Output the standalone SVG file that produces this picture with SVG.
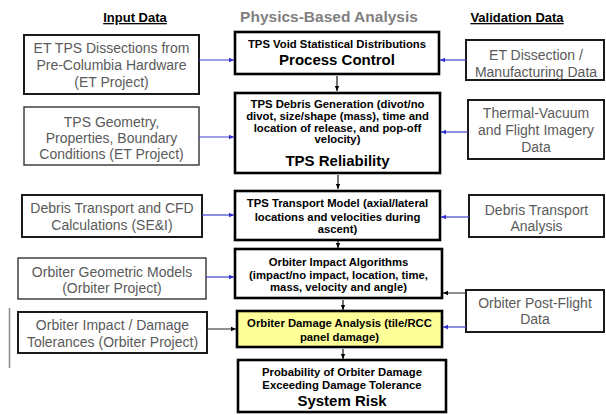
<svg xmlns="http://www.w3.org/2000/svg" width="606" height="415" viewBox="0 0 606 415">
  <style>
    text { font-family: "Liberation Sans", Arial, sans-serif; text-anchor: middle; }
    .hdr { font-size: 13px; font-weight: bold; fill: #000; text-decoration: underline; }
    .title { font-size: 15.5px; font-weight: bold; fill: #808080; }
    .side rect { fill: #fff; stroke: #1a1a1a; stroke-width: 2; }
    .side rect.thin { stroke-width: 1.4; stroke: #333; }
    .side text { font-size: 14px; fill: #5a5a5a; }
    .core rect { fill: #fff; stroke: #000; stroke-width: 2.6; }
    .core rect.hl { fill: #ffff99; }
    .core text { font-size: 11.3px; font-weight: bold; fill: #000; }
    .core text.big { font-size: 15px; }
    .blue { stroke: #4040d0; stroke-width: 1.2; fill: none; marker-end: url(#ahBlue); }
    .dark { stroke: #333; stroke-width: 1.1; fill: none; marker-end: url(#ahDark); }
    .down { stroke: #000; stroke-width: 1.1; fill: none; marker-end: url(#ahDark); }
  </style>
  <defs>
    <marker id="ahBlue" markerUnits="userSpaceOnUse" markerWidth="6" markerHeight="6" refX="5" refY="3" orient="auto">
      <path d="M0,0.8 L5,3 L0,5.2 Z" fill="#3030d0"/>
    </marker>
    <marker id="ahDark" markerUnits="userSpaceOnUse" markerWidth="6" markerHeight="6" refX="5" refY="3" orient="auto">
      <path d="M0,0.8 L5,3 L0,5.2 Z" fill="#000"/>
    </marker>
  </defs>

  <rect width="606" height="415" fill="#fff"/>

  <!-- column headings -->
  <text class="hdr" x="135" y="22">Input Data</text>
  <text class="title" x="329" y="22">Physics-Based Analysis</text>
  <text class="hdr" x="517" y="22">Validation Data</text>

  <!-- input data column -->
  <g id="in-et-dissections" class="side">
    <rect x="24" y="35" width="175" height="59"/>
    <text x="111.5" y="53">ET TPS Dissections from</text>
    <text x="111.5" y="70">Pre-Columbia Hardware</text>
    <text x="111.5" y="87">(ET Project)</text>
  </g>
  <g id="in-tps-geometry" class="side">
    <rect class="thin" x="24" y="107" width="175" height="58"/>
    <text x="111.5" y="127">TPS Geometry,</text>
    <text x="111.5" y="143">Properties, Boundary</text>
    <text x="111.5" y="159">Conditions (ET Project)</text>
  </g>
  <g id="in-debris-cfd" class="side">
    <rect x="22" y="195" width="180" height="42"/>
    <text x="112" y="213">Debris Transport and CFD</text>
    <text x="112" y="230">Calculations (SE&amp;I)</text>
  </g>
  <g id="in-orbiter-geometry" class="side">
    <rect class="thin" x="18" y="258" width="188" height="41"/>
    <text x="112" y="277">Orbiter Geometric Models</text>
    <text x="112" y="293">(Orbiter Project)</text>
  </g>
  <g id="in-damage-tolerances" class="side">
    <rect x="18" y="312" width="189" height="41"/>
    <text x="112.5" y="330">Orbiter Impact / Damage</text>
    <text x="112.5" y="347">Tolerances (Orbiter Project)</text>
  </g>
  <line x1="9.5" y1="308" x2="9.5" y2="368" stroke="#8a8a8a" stroke-width="1.5"/>

  <!-- analysis chain -->
  <g id="void-distributions" class="core">
    <rect x="235" y="32" width="204" height="42"/>
    <text x="337" y="48">TPS Void Statistical Distributions</text>
    <text class="big" x="337" y="65">Process Control</text>
  </g>
  <g id="debris-generation" class="core">
    <rect x="235" y="93" width="205" height="80"/>
    <text x="337.5" y="108">TPS Debris Generation (divot/no</text>
    <text x="337.5" y="120">divot, size/shape (mass), time and</text>
    <text x="337.5" y="132">location of release, and pop-off</text>
    <text x="337.5" y="143">velocity)</text>
    <text class="big" x="337.5" y="166">TPS Reliability</text>
  </g>
  <g id="transport-model" class="core">
    <rect x="235" y="191" width="205" height="49"/>
    <text x="337.5" y="207">TPS Transport Model (axial/lateral</text>
    <text x="337.5" y="221">locations and velocities during</text>
    <text x="337.5" y="233">ascent)</text>
  </g>
  <g id="impact-algorithms" class="core">
    <rect x="235" y="249" width="207" height="49"/>
    <text x="338.5" y="266">Orbiter Impact Algorithms</text>
    <text x="338.5" y="279">(impact/no impact, location, time,</text>
    <text x="338.5" y="291">mass, velocity and angle)</text>
  </g>
  <g id="damage-analysis" class="core">
    <rect class="hl" x="237" y="311" width="205" height="36"/>
    <text x="339.5" y="327">Orbiter Damage Analysis (tile/RCC</text>
    <text x="339.5" y="341">panel damage)</text>
  </g>
  <g id="system-risk" class="core">
    <rect x="238" y="360" width="208" height="52"/>
    <text x="342" y="376">Probability of Orbiter Damage</text>
    <text x="342" y="389">Exceeding Damage Tolerance</text>
    <text class="big" x="342" y="406">System Risk</text>
  </g>

  <!-- validation data column -->
  <g id="val-et-dissection" class="side">
    <rect x="466" y="40" width="138" height="40"/>
    <text x="536" y="60">ET Dissection /</text>
    <text x="536" y="77">Manufacturing Data</text>
  </g>
  <g id="val-thermal-vacuum" class="side">
    <rect x="468" y="100" width="136" height="59"/>
    <text x="536" y="118">Thermal-Vacuum</text>
    <text x="536" y="135">and Flight Imagery</text>
    <text x="536" y="152">Data</text>
  </g>
  <g id="val-debris-transport" class="side">
    <rect x="469" y="195" width="135" height="42"/>
    <text x="536.5" y="215">Debris Transport</text>
    <text x="536.5" y="231">Analysis</text>
  </g>
  <g id="val-post-flight" class="side">
    <rect x="466" y="290" width="138" height="42"/>
    <text x="535" y="308">Orbiter Post-Flight</text>
    <text x="535" y="324">Data</text>
  </g>

  <!-- connectors -->
  <g id="connectors">
    <line class="blue" x1="199" y1="60" x2="234" y2="60"/>
    <line class="blue" x1="199" y1="137" x2="234" y2="137"/>
    <line class="blue" x1="202" y1="215" x2="234" y2="215"/>
    <line class="blue" x1="206" y1="277" x2="234" y2="277"/>
    <line class="dark" x1="207" y1="329" x2="236" y2="329"/>

    <line class="blue" x1="466" y1="60" x2="440" y2="60"/>
    <line class="blue" x1="468" y1="132" x2="441" y2="132"/>
    <line class="blue" x1="469" y1="217" x2="441" y2="217"/>
    <line class="dark" x1="466" y1="293" x2="443" y2="293"/>
    <line class="blue" x1="466" y1="327" x2="443" y2="327"/>

    <line class="down" x1="337" y1="76" x2="337" y2="91"/>
    <line class="down" x1="338" y1="175" x2="338" y2="189"/>
    <line class="down" x1="338" y1="241" x2="338" y2="248"/>
    <line class="down" x1="343" y1="300" x2="343" y2="310"/>
    <line class="down" x1="343" y1="349" x2="343" y2="359"/>
  </g>
</svg>
